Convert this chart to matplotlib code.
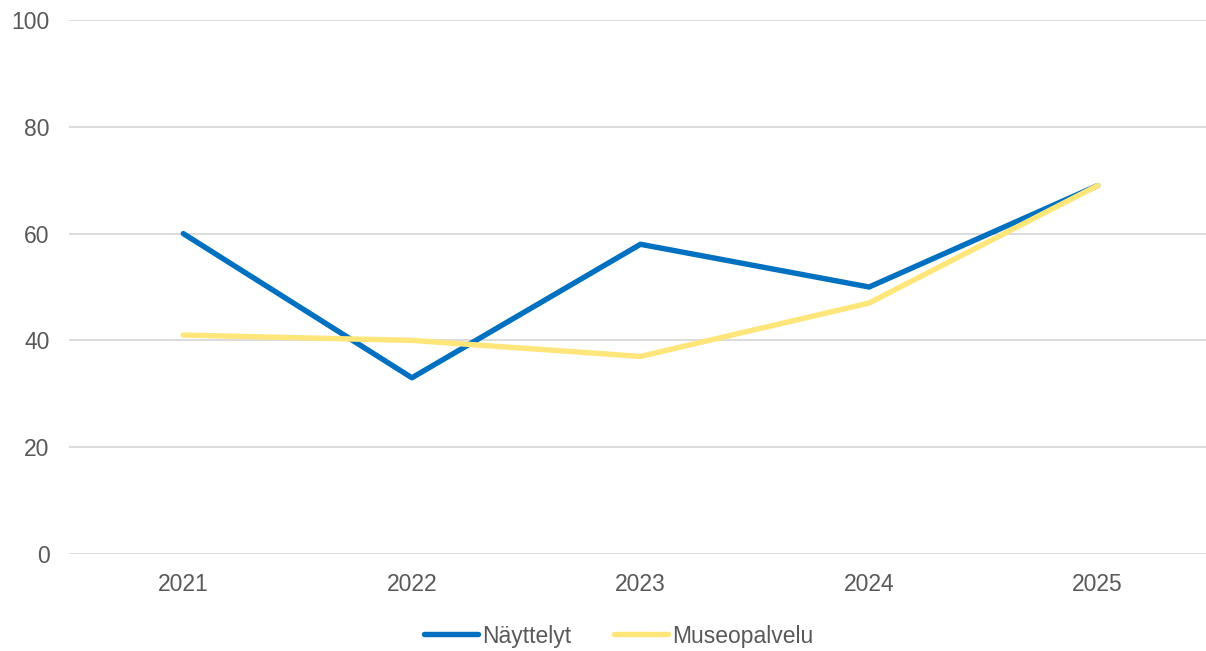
import matplotlib
matplotlib.use("Agg")
import matplotlib.pyplot as plt

years = ["2021", "2022", "2023", "2024", "2025"]
nayttelyt = [60, 33, 58, 50, 69]
museopalvelu = [41, 40, 37, 47, 69]
yticks = [0, 20, 40, 60, 80, 100]

plt.rcParams['font.family'] = ['Liberation Sans', 'DejaVu Sans']

fig = plt.figure(figsize=(12.06, 6.51), dpi=100)
ax = fig.add_axes([69/1206, 1 - 554/651, (1212 - 69)/1206, (554 - 20)/651])

x = list(range(len(years)))
ax.plot(x, nayttelyt, color="#0070C0", lw=3.9, label="Näyttelyt", solid_capstyle="round", zorder=3)
ax.plot(x, museopalvelu, color="#FFE67A", lw=3.9, label="Museopalvelu", solid_capstyle="round", zorder=4)

ax.set_xlim(-0.5, 4.5)
ax.set_ylim(0, 100)
ax.set_yticks(yticks)
ax.set_xticks(x)
ax.set_xticklabels(years)
ax.grid(axis="y", color="#D9D9D9", lw=1.3)
ax.set_axisbelow(True)
for s in ax.spines.values():
    s.set_visible(False)
ax.tick_params(axis="both", length=0, labelsize=16.5, labelcolor="#595959")
ax.tick_params(axis="y", pad=14)
ax.tick_params(axis="x", pad=14)

leg = fig.legend(loc="center", bbox_to_anchor=(0.513, 1 - 636/651), ncol=2, frameon=False,
                 fontsize=16.5, handlelength=2.35, handletextpad=0.15, columnspacing=1.9)
for t in leg.get_texts():
    t.set_color("#595959")

fig.savefig("out.png", dpi=100)
